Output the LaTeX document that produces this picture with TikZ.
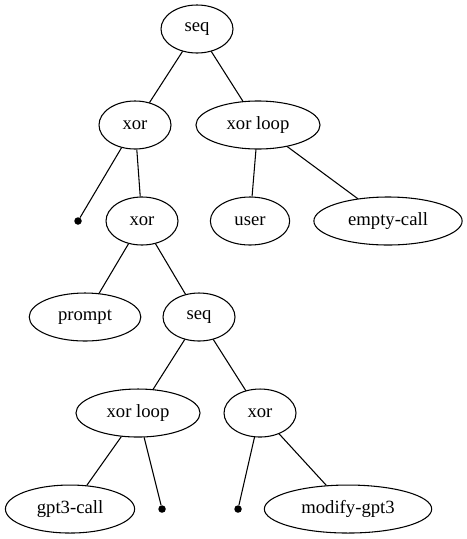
\documentclass[tikz,border=0pt]{standalone}
\usepackage{fontspec}
\setmainfont{Liberation Serif}
\usepackage{tikz}
\usetikzlibrary{shapes.geometric}

\begin{document}
\begin{tikzpicture}[-,x=1pt,y=1pt,node distance=96pt, scale = 0.75, transform shape,
  every node/.style={font=\fontsize{18.67}{20}\selectfont},
  op/.style={draw, ellipse, line width=0.8pt, minimum width=72pt, minimum height=48pt, inner xsep=12.5pt, inner ysep=2pt},
  leaf/.style={circle, fill, minimum size=7.5pt, inner sep=0pt},
  every edge/.style={draw, line width=0.8pt}]
  \useasboundingbox (0,0) rectangle (467,-539);
  \node [op] (seqa) at (197,-29) {seq};
  \node [op, below of=seqa, xshift=-62] (xora) {xor};
  \node [op, below of=seqa, xshift=61] (xorloopa) {xor loop};

  \node [leaf, below of=xora, xshift=-57] (dota) {};
  \node [op, below of=xora, xshift=7] (xorb) {xor};
  \node [op, below of=xorloopa, xshift=-8] (user) {user};
  \node [op, below of=xorloopa, xshift=130] (emptycall) {empty-call};

  \node [op, below of=xorb, xshift=-57] (prompt) {prompt};
  \node [op, below of=xorb, xshift=57] (seqb) {seq};

  \node [op, below of=seqb, xshift=-61] (xorloopb) {xor loop};
  \node [op, below of=seqb, xshift=61] (xorc) {xor};

  \node [op, below of=xorloopb, xshift=-68] (gptcall) {gpt3-call};
  \node [leaf, below of=xorloopb, xshift=24] (dotb) {};
  \node [leaf, below of=xorc, xshift=-22] (dotc) {};
  \node [op, below of=xorc, xshift=88] (modify) {modify-gpt3};

  \path (seqa) edge (xora) edge (xorloopa);
  \path (xora) edge (dota) edge (xorb);
  \path (xorloopa) edge (user) edge (emptycall);
  \path (xorb) edge (prompt) edge (seqb);
  \path (seqb) edge (xorloopb) edge (xorc);
  \path (xorloopb) edge (gptcall) edge (dotb);
  \path (xorc) edge (dotc) edge (modify);
\end{tikzpicture}
\end{document}
